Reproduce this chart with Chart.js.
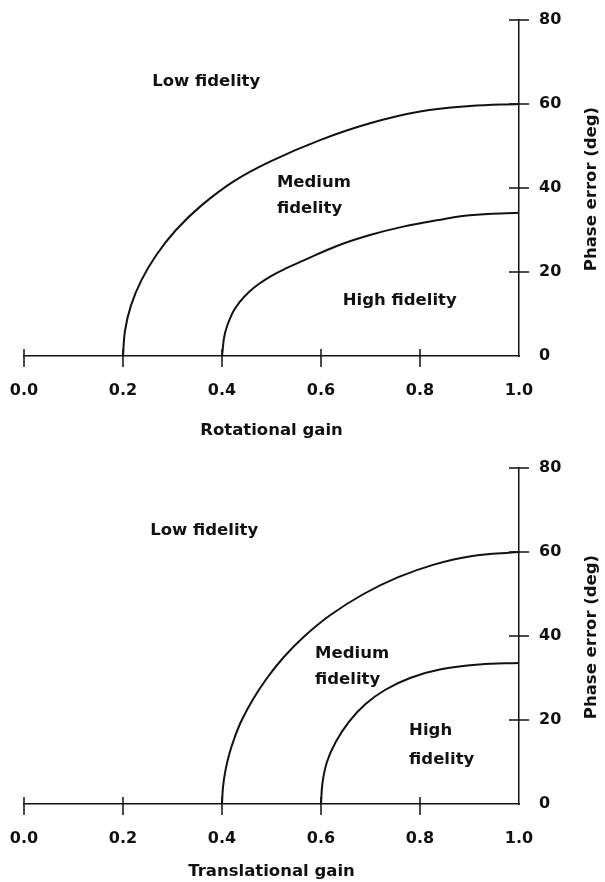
<!DOCTYPE html>
<html><head><meta charset="utf-8">
<script src="https://cdn.jsdelivr.net/npm/chart.js@4.4.1/dist/chart.umd.min.js"></script>
<style>
html,body{margin:0;padding:0;background:#fff;}
#wrap{position:relative;width:605px;height:882px;background:#fff;}
.panel{position:absolute;left:0;width:605px;height:441px;}
</style></head><body>
<div id="wrap">
<div class="panel" style="top:0"><canvas id="c1" width="605" height="441"></canvas></div>
<div class="panel" style="top:441px"><canvas id="c2" width="605" height="441"></canvas></div>
</div>
<script>
// ---- tick values / labels ----
const xTickValues = [0, 0.2, 0.4, 0.6, 0.8, 1.0];
const xTickLabels = ['0.0', '0.2', '0.4', '0.6', '0.8', '1.0'];
const yTickValues = [0, 20, 40, 60, 80];
const yTickLabels = ['0', '20', '40', '60', '80'];
const yTitle = 'Phase error (deg)';

// ---- top panel: rotational gain ----
const rotTitle = 'Rotational gain';
const rotOuterX = [0.200, 0.204, 0.216, 0.237, 0.267, 0.307, 0.358, 0.425, 0.497, 0.598, 0.699, 0.800, 0.901, 1.000];
const rotOuterY = [0, 6.0, 12.0, 18.0, 24.0, 30.0, 35.8, 41.7, 46.3, 51.4, 55.4, 58.2, 59.5, 60.0];
const rotInnerX = [0.400, 0.406, 0.421, 0.436, 0.454, 0.475, 0.500, 0.530, 0.564, 0.632, 0.699, 0.766, 0.834, 0.901, 1.000];
const rotInnerY = [0, 5.4, 10.2, 12.9, 15.2, 17.2, 19.1, 20.9, 22.7, 26.2, 28.8, 30.8, 32.3, 33.5, 34.1];

// ---- bottom panel: translational gain ----
const traTitle = 'Translational gain';
const traOuterX = [0.400, 0.402, 0.407, 0.415, 0.426, 0.440, 0.463, 0.491, 0.525, 0.567, 0.619, 0.686, 0.756, 0.828, 0.903, 1.000];
const traOuterY = [0, 4, 8, 12, 16, 20, 25, 30, 35, 40, 45, 50, 54, 57, 59, 60];
const traInnerX = [0.600, 0.603, 0.612, 0.630, 0.656, 0.690, 0.730, 0.780, 0.840, 0.920, 1.000];
const traInnerY = [0, 5.0, 10.0, 14.8, 19.5, 23.8, 27.2, 30.0, 32.0, 33.2, 33.6];

// ---- region label text ----
const rotRegionText = ['Low fidelity', 'Medium', 'fidelity', 'High fidelity'];
const traRegionText = ['Low fidelity', 'Medium', 'fidelity', 'High', 'fidelity'];

// label placement (data units, left/baseline anchored)
const rotRegionPos = [[0.259, 64.4], [0.511, 40.2], [0.511, 34.0], [0.644, 12.1]];
const traRegionPos = [[0.255, 64.0], [0.588, 34.8], [0.588, 28.6], [0.778, 16.4], [0.778, 9.5]];

const FONT = "'DejaVu Sans', 'Liberation Sans', Arial, sans-serif";
const INK = '#111';

function pts(xs, ys) { return xs.map((x, i) => ({x: x, y: ys[i]})); }

const crossTicks = {
  id: 'crossTicks',
  afterDraw(chart) {
    const ctx = chart.ctx, xs = chart.scales.x, ys = chart.scales.y;
    const y0 = ys.getPixelForValue(0), x1 = xs.getPixelForValue(1);
    ctx.save();
    ctx.strokeStyle = INK; ctx.lineWidth = 1.5;
    ctx.beginPath();
    xs.ticks.forEach(t => {
      if (t.value >= 1) return;
      const px = xs.getPixelForValue(t.value);
      ctx.moveTo(px, y0 - 7); ctx.lineTo(px, y0 + 11);
    });
    ys.ticks.forEach(t => {
      if (t.value <= 0) return;
      const py = ys.getPixelForValue(t.value);
      ctx.moveTo(x1 - 10, py); ctx.lineTo(x1 + 10, py);
    });
    ctx.stroke();
    ctx.fillStyle = INK;
    ctx.font = 'bold 16.5px ' + FONT;
    ctx.textAlign = 'center'; ctx.textBaseline = 'middle';
    ctx.translate(ys.right - 13, (ys.top + ys.bottom) / 2 + 1);
    ctx.rotate(-Math.PI / 2);
    ctx.fillText(yTitle, 0, 0);
    ctx.restore();
    const txt = chart.options.plugins.crossTicks.texts;
    const pos = chart.options.plugins.crossTicks.pos;
    ctx.save();
    ctx.fillStyle = INK;
    ctx.font = 'bold 16.5px ' + FONT;
    ctx.textAlign = 'left'; ctx.textBaseline = 'alphabetic';
    txt.forEach((s, i) => {
      ctx.fillText(s, xs.getPixelForValue(pos[i][0]), ys.getPixelForValue(pos[i][1]));
    });
    ctx.restore();
  }
};

function makeChart(id, title, outerX, outerY, innerX, innerY, texts, pos, padTop, xHeight) {
  const line = (data) => ({
    data: data, showLine: true, borderColor: INK, borderWidth: 2,
    pointRadius: 0, fill: false, tension: 0.4
  });
  return new Chart(document.getElementById(id), {
    type: 'scatter',
    data: { datasets: [line(pts(outerX, outerY)), line(pts(innerX, innerY))] },
    options: {
      responsive: false, animation: false, devicePixelRatio: 1,
      layout: { padding: { left: 24, top: padTop, right: 0, bottom: 0 } },
      plugins: { legend: { display: false }, tooltip: { enabled: false },
        crossTicks: { texts: texts, pos: pos } },
      scales: {
        x: {
          type: 'linear', position: 'bottom', min: 0, max: 1,
          afterBuildTicks: s => { s.ticks = xTickValues.map(v => ({value: v})); },
          afterFit: s => { s.height = xHeight; },
          grid: { display: false, drawTicks: true, tickLength: 25 },
          border: { display: true, color: INK, width: 1.5 },
          ticks: { padding: 0, color: INK, font: { family: FONT, size: 16, weight: 'bold' },
            maxRotation: 0, autoSkip: false,
            callback: v => { const i = xTickValues.findIndex(t => Math.abs(t - v) < 1e-6); return i >= 0 ? xTickLabels[i] : ''; } },
          title: { display: true, text: title, color: INK, font: { family: FONT, size: 16.5, weight: 'bold' },
            padding: { top: 0, bottom: 0 } }
        },
        y: {
          type: 'linear', position: 'right', min: 0, max: 80,
          afterBuildTicks: s => { s.ticks = yTickValues.map(v => ({value: v})); },
          afterFit: s => { s.width = 86; },
          grid: { display: false, drawTicks: true, tickLength: 20 },
          border: { display: true, color: INK, width: 1.5 },
          ticks: { padding: 0, color: INK, font: { family: FONT, size: 16, weight: 'bold' },
            callback: v => { const i = yTickValues.indexOf(v); return i >= 0 ? yTickLabels[i] : ''; } }
        }
      }
    },
    plugins: [crossTicks]
  });
}

makeChart('c1', rotTitle, rotOuterX, rotOuterY, rotInnerX, rotInnerY, rotRegionText, rotRegionPos, 20, 85);
makeChart('c2', traTitle, traOuterX, traOuterY, traInnerX, traInnerY, traRegionText, traRegionPos, 27, 78);
</script>
</body></html>
